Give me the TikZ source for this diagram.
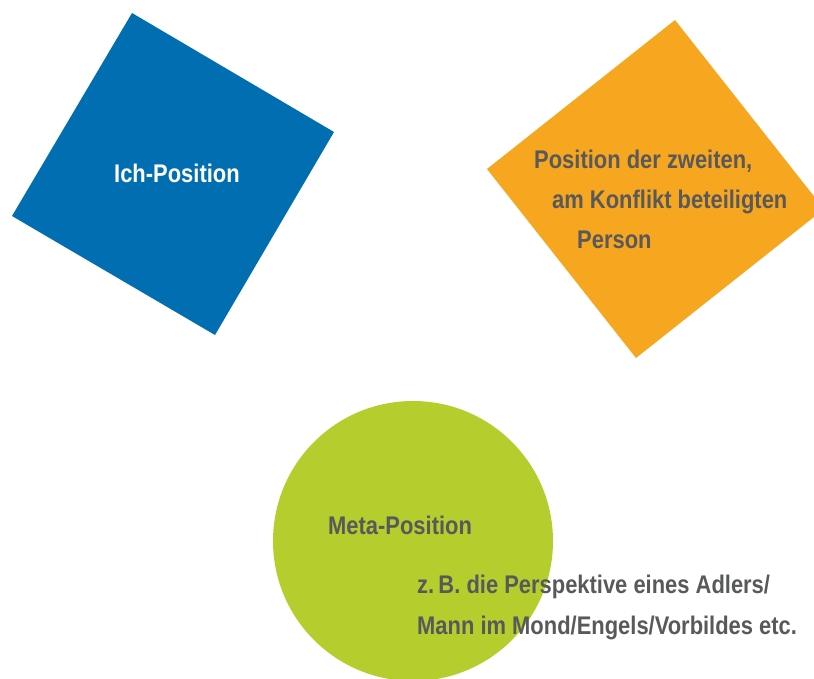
\documentclass[tikz,border=0pt]{standalone}
\usepackage{fontspec}
\setmainfont{Liberation Sans}[FakeStretch=0.86]
\definecolor{ichblue}{RGB}{0,110,176}
\definecolor{otherorange}{RGB}{247,166,32}
\definecolor{metagreen}{RGB}{181,206,46}
\definecolor{txtgray}{RGB}{88,89,91}
\tikzset{
  lbl/.style={anchor=base west, inner sep=0pt, font=\fontsize{25.5}{40}\selectfont\bfseries, text=txtgray},
  whitelbl/.style={lbl, text=white}
}
\begin{document}
\begin{tikzpicture}[x=1pt,y=-1pt]
\useasboundingbox (0,0) rectangle (814,678);
\clip (0,0) rectangle (814,678);
% shapes
\fill[ichblue] (132,13) -- (334,132) -- (215,335) -- (12,216) -- cycle;
\fill[otherorange] (675,20) -- (824,209) -- (636,358) -- (487,169) -- cycle;
\fill[metagreen] (413,541) circle[radius=140];
% texts
\node[whitelbl] (ich) at (114,182) {Ich-Position};
\node[lbl] (p1) at (534,168) {Position der zweiten,};
\node[lbl] (p2) at (552,208) {am Konflikt beteiligten};
\node[lbl] (p3) at (577,248) {Person};
\node[lbl] (meta) at (328,534) {Meta-Position};
\node[lbl] (z1) at (417,593) {z.\,B. die Perspektive eines Adlers/};
\node[lbl] (z2) at (417,634) {Mann im Mond/Engels/Vorbildes etc.};
\end{tikzpicture}
\end{document}
